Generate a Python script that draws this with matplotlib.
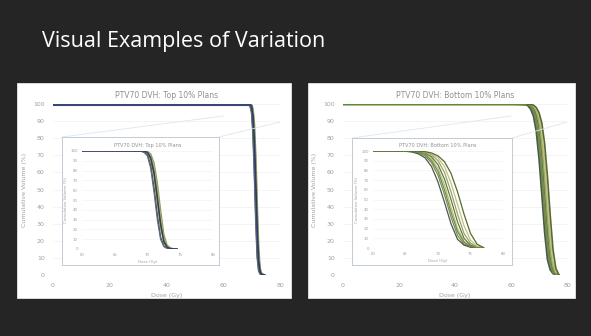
import matplotlib
matplotlib.use("Agg")
from matplotlib import pyplot as plt
from matplotlib.patches import Rectangle
from matplotlib.lines import Line2D

W, H = 591, 336

# ---- data ----
slide_title = "Visual Examples of Variation"
titles = ["PTV70 DVH: Top 10% Plans", "PTV70 DVH: Bottom 10% Plans"]

dose_top = [0, 60, 69, 69.5, 70, 70.5, 71, 71.5, 72, 72.5, 73, 73.5, 74, 74.5]
vol_top = [
    [100, 100, 100, 99.5, 98, 90, 72, 45, 20, 6, 1.5, 0.5, 0.2, 0],
    [100, 100, 100, 99.8, 99, 94, 80, 56, 28, 9, 2, 0.6, 0.2, 0],
    [100, 100, 99.9, 99, 96, 85, 62, 35, 12, 3, 0.8, 0.3, 0.1, 0],
    [100, 100, 100, 99.9, 99.5, 97, 88, 68, 40, 15, 4, 1, 0.3, 0],
    [100, 100, 100, 99.6, 98.5, 92, 76, 50, 24, 7, 1.5, 0.4, 0.1, 0],
    [100, 100, 100, 99.9, 99.2, 95, 84, 62, 33, 11, 3, 0.8, 0.3, 0],
    [100, 100, 99.8, 98.5, 95, 82, 58, 30, 10, 2.5, 0.6, 0.2, 0.1, 0],
    [100, 100, 100, 99.7, 98.8, 93, 78, 53, 26, 8, 2, 0.5, 0.2, 0],
]

dose_bot = [0, 60, 65, 66, 67, 68, 69, 70, 71, 72, 73, 74, 75, 76, 77]
vol_bot = [
    [100, 100, 99.9, 99.7, 99, 97, 92, 82, 65, 42, 20, 7, 2, 0.5, 0],
    [100, 100, 100, 99.8, 99.3, 98, 94, 86, 71, 50, 27, 10, 3, 0.8, 0],
    [100, 100, 99.8, 99.4, 98.2, 95, 88, 75, 55, 32, 13, 4, 1, 0.3, 0],
    [100, 100, 100, 99.9, 99.6, 98.6, 96, 90, 78, 58, 35, 15, 5, 1.2, 0],
    [100, 100, 99.7, 99, 97, 93, 84, 68, 47, 25, 9, 3, 0.8, 0.2, 0],
    [100, 100, 100, 99.9, 99.7, 99, 97, 93, 84, 67, 45, 23, 8, 2, 0.3],
    [100, 100, 99.9, 99.6, 98.8, 96.5, 90, 79, 60, 37, 17, 6, 1.5, 0.4, 0],
    [100, 100, 100, 99.9, 99.8, 99.3, 98, 95, 89, 77, 58, 35, 15, 4, 0.5],
]

main_xticks = [0, 20, 40, 60, 80]
inset_xticks = [60, 65, 70, 75, 80]
yticks = list(range(0, 101, 10))

colors_top = ["#c9c35a", "#6f7d4a", "#3d4a6e", "#8c9a5a", "#4f5f3f",
              "#a8ad6a", "#5d6a78", "#2f3c63"]
colors_bot = ["#b8c060", "#5f7d3a", "#7d8a6a", "#9aa070", "#4a5a45",
              "#c2c27a", "#6f8a4a", "#556b2f"]


def px_rect(x0, y0, x1, y1):
    return [x0 / W, 1 - y1 / H, (x1 - x0) / W, (y1 - y0) / H]


fig = plt.figure(figsize=(W / 100, H / 100), dpi=100)
fig.patch.set_facecolor("#252525")

fig.text(42 / W, 1 - 47 / H, slide_title, color="white", fontsize=15.5,
         family="Open Sans", va="baseline", ha="left")

panels = [
    dict(box=(17, 83, 291, 298), ax=(53, 104, 280, 275),
         ibox=(62, 137, 219, 265), iax=(82, 151, 213, 249),
         dose=dose_top, vols=vol_top, cols=colors_top, top="#34467a"),
    dict(box=(308, 83, 575, 298), ax=(343, 104, 567, 275),
         ibox=(352, 138, 512, 265), iax=(373, 151, 503, 248),
         dose=dose_bot, vols=vol_bot, cols=colors_bot, top="#5e8a35"),
]

grey = "#a0a0a0"
for p, title in zip(panels, titles):
    x0, y0, x1, y1 = p["box"]
    fig.patches.append(Rectangle((x0 / W, 1 - y1 / H), (x1 - x0) / W, (y1 - y0) / H,
                                 transform=fig.transFigure, facecolor="white",
                                 edgecolor="#e6e6e6", lw=0.6, zorder=-5))

    ax = fig.add_axes(px_rect(*p["ax"]))
    ax.set_zorder(1)
    ax.patch.set_alpha(0)
    for i, v in enumerate(p["vols"]):
        ax.plot(p["dose"], v, color=p["cols"][i], lw=1.2, zorder=3)
    ax.plot(p["dose"][:3], p["vols"][0][:3], color=p["top"], lw=2.2, zorder=4)
    ax.set_xlim(0, 80)
    ax.set_ylim(0, 100)
    ax.set_xticks(main_xticks)
    ax.set_yticks(yticks)
    ax.tick_params(labelsize=4.5, colors=grey, length=0, pad=6)
    ax.grid(axis="y", color="#f0f0f0", lw=0.5)
    for s in ax.spines.values():
        s.set_visible(False)
    ax.axhline(0, color="#d8d8d8", lw=0.6)
    ax.set_title(title, fontsize=5.5, color="#909090", pad=4)
    ax.set_ylabel("Cumulative Volume (%)", fontsize=4.5, color=grey, labelpad=4)
    ax.set_xlabel("Dose (Gy)", fontsize=4.5, color=grey, labelpad=3)

    # inset box + connector lines
    bx0, by0, bx1, by1 = p["ibox"]
    fig.patches.append(Rectangle((bx0 / W, 1 - by1 / H), (bx1 - bx0) / W, (by1 - by0) / H,
                                 transform=fig.transFigure, facecolor="white",
                                 edgecolor="#b8c4d0", lw=0.6, zorder=5))
    ax_x0, ax_y0, ax_x1, ax_y1 = p["ax"]
    zx = ax_x0 + (ax_x1 - ax_x0) * 60 / 80
    for (ax_, ay_), (bx_, by_) in [((zx, ax_y0 + 12), (bx0, by0)),
                                   ((ax_x1, ax_y0 + 18), (bx1, by0))]:
        fig.lines.append(Line2D([ax_ / W, bx_ / W], [1 - ay_ / H, 1 - by_ / H],
                                transform=fig.transFigure, color="#dfe6ec",
                                lw=0.6, zorder=2))

    ins = fig.add_axes(px_rect(*p["iax"]))
    ins.set_zorder(6)
    ins.set_facecolor("white")
    for i, v in enumerate(p["vols"]):
        ins.plot(p["dose"], v, color=p["cols"][i], lw=0.9)
    ins.set_xlim(60, 80)
    ins.set_ylim(0, 100)
    ins.set_xticks(inset_xticks)
    ins.set_yticks(yticks)
    ins.tick_params(labelsize=2.8, colors=grey, length=0, pad=3)
    ins.grid(axis="y", color="#f2f2f2", lw=0.4)
    for s in ins.spines.values():
        s.set_visible(False)
    ins.axhline(0, color="#dcdcdc", lw=0.5)
    ins.set_title(title, fontsize=3.6, color="#909090", pad=3)
    ins.set_ylabel("Cumulative Volume (%)", fontsize=2.8, color=grey, labelpad=2)
    ins.set_xlabel("Dose (Gy)", fontsize=2.8, color=grey, labelpad=2)

fig.savefig("out.png", dpi=100, facecolor=fig.get_facecolor())
